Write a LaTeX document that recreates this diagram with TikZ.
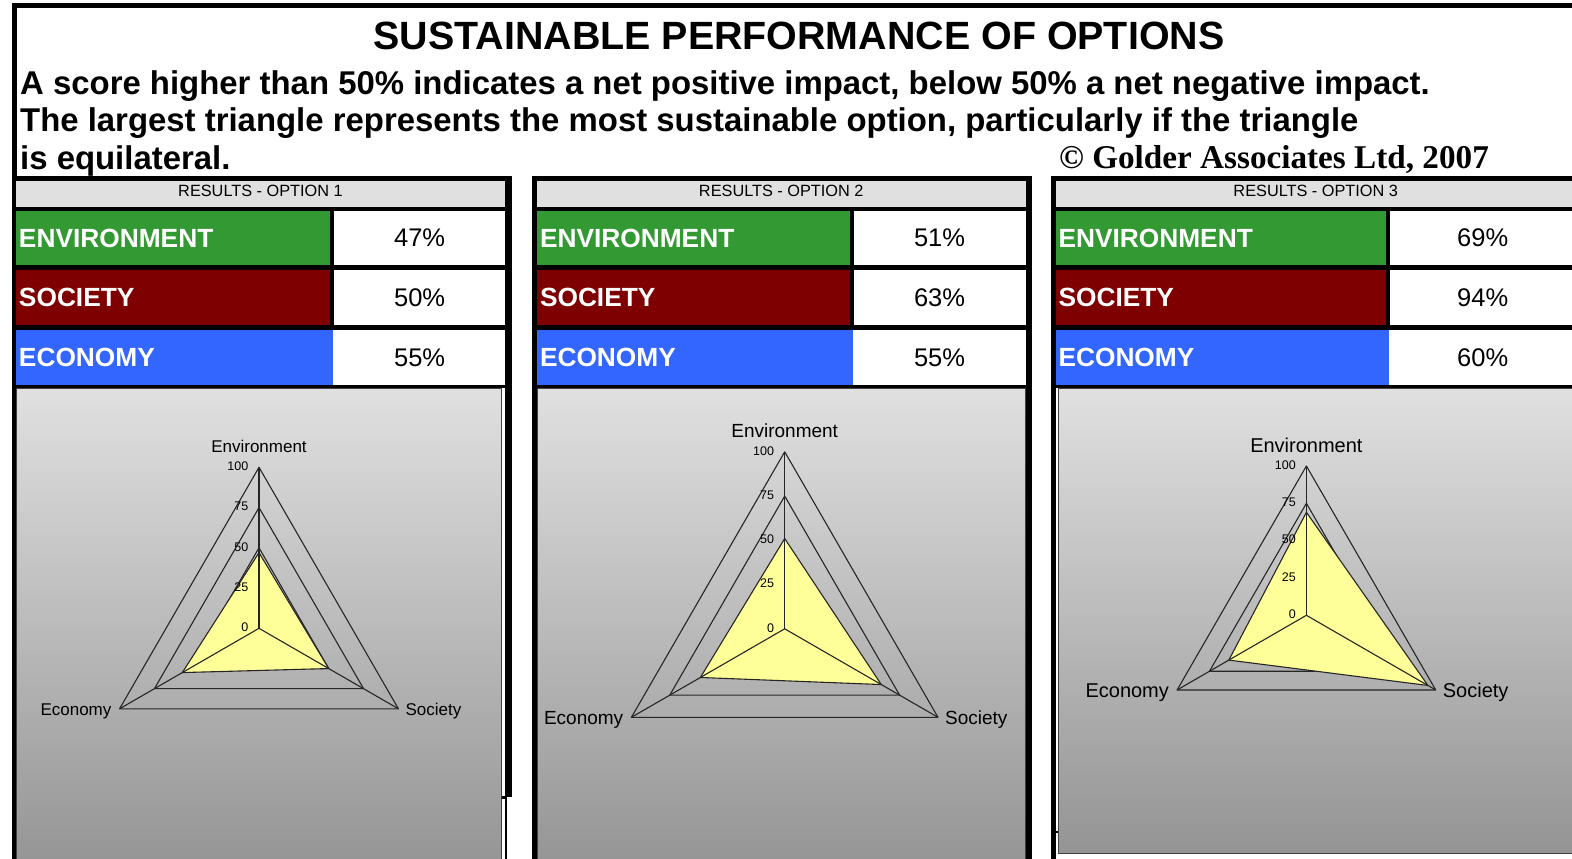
\documentclass[tikz,border=0pt]{standalone}
\usepackage{fontspec}
\setmainfont{Liberation Sans}
\newfontfamily\serifbold{Liberation Serif}[BoldFont={Liberation Serif Bold}]
\definecolor{envgreen}{HTML}{339933}
\definecolor{socred}{HTML}{7F0000}
\definecolor{ecoblue}{HTML}{3366FF}
\definecolor{hdrgray}{HTML}{E0E0E0}
\definecolor{chartyellow}{HTML}{FFFF99}
\definecolor{chtop}{HTML}{E0E0E0}
\definecolor{chbot}{HTML}{949494}
\begin{document}
\begin{tikzpicture}[x=1pt,y=-1pt,
  gridl/.style={draw=black!85,line width=1.1pt,line join=round},
  datapoly/.style={fill=chartyellow,draw=black!85,line width=1.1pt,line join=round},
  ticklbl/.style={font=\fontsize{12.5}{12.5}\selectfont,inner sep=0pt,anchor=east},
  striptxt/.style={font=\fontsize{16.3}{16.3}\selectfont,inner sep=0pt},
  cattxt/.style={font=\bfseries\fontsize{26.3}{26.3}\selectfont,text=white,anchor=west,inner sep=0pt},
  pcttxt/.style={font=\fontsize{25.5}{25.5}\selectfont,inner sep=0pt},
  headtxt/.style={font=\bfseries\fontsize{32.9}{32.9}\selectfont,anchor=base west,inner sep=0pt},
]
\useasboundingbox (0,0) rectangle (1572,859);
\fill[white] (0,0) rectangle (1572,859);
% header frame
\draw[line width=5pt] (14,180) -- (14,5.8) -- (1580,5.8);
\node[font=\bfseries\fontsize{39.4}{39.4}\selectfont,anchor=base,inner sep=0pt] (title) at (799,50) {SUSTAINABLE PERFORMANCE OF OPTIONS};
\node[headtxt] (note1) at (20,94) {A score higher than 50\% indicates a net positive impact, below 50\% a net negative impact.};
\node[headtxt] (note2) at (20,131) {The largest triangle represents the most sustainable option, particularly if the triangle};
\node[headtxt] (note3) at (20,169) {is equilateral.};
\node[font=\serifbold\bfseries\fontsize{33.2}{33.2}\selectfont,anchor=base west,inner sep=0pt] (copyright) at (1059,168) {\textcopyright{} Golder Associates Ltd, 2007};
% panels
\foreach \pn/\oL/\iL/\iR/\oR/\dA/\dB/\vE/\vS/\vC/\cX/\cY/\rR/\fS/\bL/\bR/\bB in {
  1/12/16/505/512/330/334.3/47/50/55/259/628.3/161/17/16.5/501.5/870,
  2/532/537/1025.5/1032/850/853.6/51/63/55/784.7/628.8/177/19/537.5/1025/870,
  3/1051/1055.5/1576/1583/1386/1389.5/69/94/60/1306.4/615.3/149.3/20/1058/1574/853.5}{
  \fill[black] (\oL,176) rectangle (\oR,388);
  \fill[black] (\oL,176) rectangle (\iL,870);
  \fill[black] (\iR,176) rectangle (\oR,870);
  \fill[white] (\iL,388) rectangle (\iR,870);
  \fill[hdrgray] (\iL,181) rectangle (\iR,207);
  \node[striptxt] (p\pn-head) at ({(\iL+\iR)/2},191.3) {RESULTS - OPTION \pn};
  \fill[envgreen] (\iL,211) rectangle (\dA,265);
  \fill[white] (\dB,211) rectangle (\iR,265);
  \fill[socred] (\iL,270) rectangle (\dA,325);
  \fill[white] (\dB,270) rectangle (\iR,325);
  \fill[ecoblue] (\iL,330) rectangle ({\dB-1},385);
  \fill[white] ({\dB-1},330) rectangle (\iR,385);
  \node[cattxt] (p\pn-envl) at ({\iL+2.8},238) {ENVIRONMENT};
  \node[cattxt] (p\pn-socl) at ({\iL+2.8},297.5) {SOCIETY};
  \node[cattxt] (p\pn-ecol) at ({\iL+2.8},357.5) {ECONOMY};
  \node[pcttxt] (p\pn-envv) at ({(\dB+\iR)/2},238) {\vE\%};
  \node[pcttxt] (p\pn-socv) at ({(\dB+\iR)/2},297.5) {\vS\%};
  \node[pcttxt] (p\pn-ecov) at ({(\dB+\iR)/2},357.5) {\vC\%};
  % chart box
  \shade[top color=chtop,bottom color=chbot] (\bL,388.5) rectangle (\bR,\bB);
  \draw[black!75,line width=1pt] (\bL,388.5) rectangle (\bR,\bB);
  \begin{scope}[shift={(\cX,\cY)}]
    \coordinate (p\pn-O) at (0,0);
    \coordinate (p\pn-E) at (0,{-\rR});
    \coordinate (p\pn-C) at ({-0.866*\rR},{0.5*\rR});
    \coordinate (p\pn-S) at ({0.866*\rR},{0.5*\rR});
    \foreach \k in {1,0.75,0.5,0.25}{
      \draw[gridl] (0,{-\k*\rR}) -- ({-0.866*\k*\rR},{0.5*\k*\rR}) -- ({0.866*\k*\rR},{0.5*\k*\rR}) -- cycle;
    }
    \draw[datapoly] (0,{-\vE/100*\rR}) -- ({-0.866*\vC/100*\rR},{0.5*\vC/100*\rR}) -- ({0.866*\vS/100*\rR},{0.5*\vS/100*\rR}) -- cycle;
    \draw[gridl] (p\pn-O) -- (p\pn-E);
    \draw[gridl] (p\pn-O) -- (p\pn-C);
    \draw[gridl] (p\pn-O) -- (p\pn-S);
    \foreach \v in {0,25,50,75,100}{
      \node[ticklbl] (p\pn-t\v) at (-10.5,{-\v/100*\rR-1}) {\v};
    }
    \node[font=\fontsize{\fS}{\fS}\selectfont,inner sep=0pt] (p\pn-lenv) at (0,{-\rR-21}) {Environment};
    \node[font=\fontsize{\fS}{\fS}\selectfont,inner sep=0pt,anchor=east] (p\pn-leco) at ({-0.866*\rR-8},{0.5*\rR+2.5}) {Economy};
    \node[font=\fontsize{\fS}{\fS}\selectfont,inner sep=0pt,anchor=west] (p\pn-lsoc) at ({0.866*\rR+7},{0.5*\rR+2.5}) {Society};
  \end{scope}
}
% small frame details
\fill[white] (507,797) rectangle (513,870);
\fill[black] (501.5,796) rectangle (507,798.5);
\fill[black] (1055.5,830.5) rectangle (1058,832.5);
\end{tikzpicture}
\end{document}
